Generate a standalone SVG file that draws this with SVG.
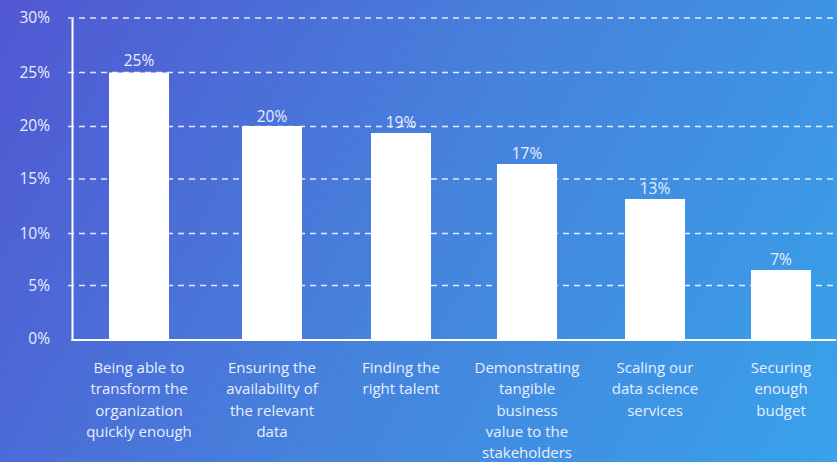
<svg xmlns="http://www.w3.org/2000/svg" width="837" height="462" viewBox="0 0 837 462">
<defs>
<linearGradient id="bg" x1="0" y1="0" x2="837" y2="462" gradientUnits="userSpaceOnUse">
<stop offset="0" stop-color="#5157d2"/>
<stop offset="0.5" stop-color="#4682dc"/>
<stop offset="1" stop-color="#38a2ea"/>
</linearGradient>
<style>
.grid{stroke:#ffffff;stroke-opacity:0.85;stroke-width:1.5;stroke-dasharray:6 5;fill:none}
.axis{stroke:#ffffff;stroke-width:2;fill:none}
.bar{fill:#ffffff}
text{font-family:"Open Sans","Liberation Sans",sans-serif;fill:#e8eeff}
.yl{font-size:15.5px;text-anchor:end}
.vl{font-size:15.5px;text-anchor:middle}
.cl{font-size:15px;text-anchor:middle}
</style>
</defs>
<rect width="837" height="462" fill="url(#bg)"/>
<g id="gridlines">
<line class="grid" x1="68" y1="18" x2="837" y2="18"/>
<line class="grid" x1="68" y1="72.5" x2="837" y2="72.5"/>
<line class="grid" x1="68" y1="126.5" x2="837" y2="126.5"/>
<line class="grid" x1="68" y1="179" x2="837" y2="179"/>
<line class="grid" x1="68" y1="233.5" x2="837" y2="233.5"/>
<line class="grid" x1="68" y1="285.5" x2="837" y2="285.5"/>
</g>
<g id="y-axis-labels">
<text class="yl" x="50" y="23">30%</text>
<text class="yl" x="50" y="77.5">25%</text>
<text class="yl" x="50" y="131">20%</text>
<text class="yl" x="50" y="184">15%</text>
<text class="yl" x="50" y="238.5">10%</text>
<text class="yl" x="50" y="290.5">5%</text>
<text class="yl" x="50" y="344">0%</text>
</g>
<g id="bar1">
<rect class="bar" x="109" y="72.5" width="60" height="267.5"/>
<text class="vl" x="139" y="66">25%</text>
<text class="cl" x="139" y="373">Being able to</text>
<text class="cl" x="139" y="394.3">transform the</text>
<text class="cl" x="139" y="415.6">organization</text>
<text class="cl" x="139" y="437">quickly enough</text>
</g>
<g id="bar2">
<rect class="bar" x="242" y="126" width="60" height="214"/>
<text class="vl" x="272" y="121.5">20%</text>
<text class="cl" x="272" y="373">Ensuring the</text>
<text class="cl" x="272" y="394.3">availability of</text>
<text class="cl" x="272" y="415.6">the relevant</text>
<text class="cl" x="272" y="437">data</text>
</g>
<g id="bar3">
<rect class="bar" x="371" y="133" width="60" height="207"/>
<text class="vl" x="401" y="127.5">19%</text>
<text class="cl" x="401" y="373">Finding the</text>
<text class="cl" x="401" y="394.3">right talent</text>
</g>
<g id="bar4">
<rect class="bar" x="497" y="164" width="60" height="176"/>
<text class="vl" x="527" y="158.5">17%</text>
<text class="cl" x="527" y="373">Demonstrating</text>
<text class="cl" x="527" y="394.3">tangible</text>
<text class="cl" x="527" y="415.6">business</text>
<text class="cl" x="527" y="437">value to the</text>
<text class="cl" x="527" y="458.3">stakeholders</text>
</g>
<g id="bar5">
<rect class="bar" x="625" y="199" width="60" height="141"/>
<text class="vl" x="655" y="194">13%</text>
<text class="cl" x="655" y="373">Scaling our</text>
<text class="cl" x="655" y="394.3">data science</text>
<text class="cl" x="655" y="415.6">services</text>
</g>
<g id="bar6">
<rect class="bar" x="751" y="270" width="60" height="70"/>
<text class="vl" x="781" y="264.5">7%</text>
<text class="cl" x="781" y="373">Securing</text>
<text class="cl" x="781" y="394.3">enough</text>
<text class="cl" x="781" y="415.6">budget</text>
</g>
<g id="axes">
<line class="axis" x1="72.5" y1="19" x2="72.5" y2="341"/>
<line class="axis" x1="71.5" y1="340" x2="836" y2="340"/>
</g>
</svg>
